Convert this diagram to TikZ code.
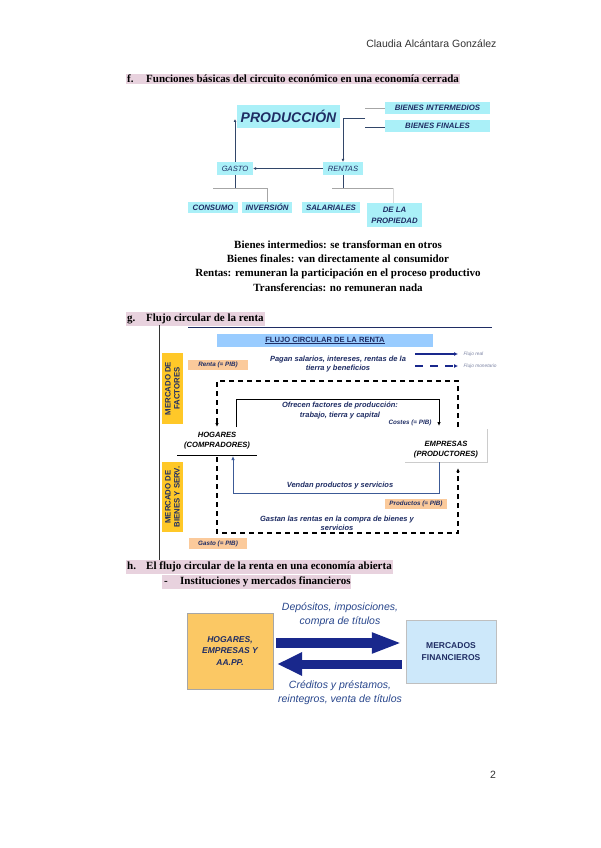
\documentclass[tikz,border=0pt]{standalone}
\usepackage{fontspec}
\setmainfont{Liberation Serif}
\setsansfont{Liberation Sans}
\usetikzlibrary{arrows.meta,calc}
\definecolor{dblue}{RGB}{31,45,100}
\definecolor{hblue}{RGB}{40,70,140}
\definecolor{pinkhl}{RGB}{232,210,222}
\definecolor{cyanbox}{RGB}{170,240,248}
\definecolor{orangebox}{RGB}{251,202,155}
\definecolor{goldbox}{RGB}{255,200,40}
\definecolor{titleblue}{RGB}{153,204,255}
\definecolor{hogbox}{RGB}{251,200,100}
\definecolor{mfbox}{RGB}{205,232,250}
\definecolor{navy}{RGB}{25,40,140}
\definecolor{treeline}{RGB}{50,70,105}
\definecolor{flowblue}{RGB}{60,90,150}
\begin{document}
\begin{tikzpicture}[x=1pt,y=-1pt,
  hl/.style={fill=pinkhl, inner xsep=1pt, inner ysep=1.5pt, anchor=west, font=\bfseries\fontsize{11}{13}\selectfont},
  cbox/.style={fill=cyanbox, inner sep=0pt, text=dblue, align=center, font=\sffamily\bfseries\itshape\fontsize{7.8}{9}\selectfont},
  tline/.style={treeline, line width=0.9pt},
  gline/.style={gray!70, line width=0.9pt},
  ftext/.style={text=dblue, align=center, font=\sffamily\bfseries\itshape\fontsize{7.5}{9.5}\selectfont},
  tiny/.style={text=dblue, font=\sffamily\bfseries\itshape\fontsize{6.3}{7}\selectfont},
  obox/.style={fill=orangebox, inner sep=0pt, tiny},
  gbox/.style={fill=goldbox, inner sep=0pt, rotate=90, text=dblue, align=center, font=\sffamily\bfseries\fontsize{7.8}{9}\selectfont},
  money/.style={black, line width=1.2pt, dash pattern=on 5pt off 4pt, -{Latex[length=4pt,width=3.5pt]}},
  realf/.style={line width=1pt, -{Latex[length=4pt,width=3.5pt]}},
  who/.style={align=center, font=\sffamily\bfseries\itshape\fontsize{7.6}{10}\selectfont}
]
\useasboundingbox[fill=white] (0,0) rectangle (600,848);

% header and footer
\node[anchor=east, text=black!80, font=\sffamily\fontsize{10.5}{12}\selectfont] (author) at (500,44) {Claudia Alcántara González};
\node[text=black!80, font=\sffamily\fontsize{10.5}{12}\selectfont] (pagenum) at (493,775) {2};

% ---------- section f ----------
\node[hl] (hf) at (126,79) {\makebox[19pt][l]{f.}Funciones básicas del circuito económico en una economía cerrada};

\node[cbox, minimum width=103pt, minimum height=23pt, font=\sffamily\bfseries\itshape\fontsize{14}{15}\selectfont] (prod) at (288.5,116.5) {PRODUCCIÓN};
\node[cbox, minimum width=105pt, minimum height=12pt] (bi) at (437.5,108) {BIENES INTERMEDIOS};
\node[cbox, minimum width=105pt, minimum height=12pt] (bf) at (437.5,126) {BIENES FINALES};
\node[cbox, minimum width=36pt, minimum height=13pt, font=\sffamily\itshape\fontsize{7.6}{9}\selectfont] (gasto) at (235,168.5) {GASTO};
\node[cbox, minimum width=40pt, minimum height=13pt, font=\sffamily\itshape\fontsize{7.6}{9}\selectfont] (rentas) at (343,168.5) {RENTAS};
\node[cbox, minimum width=50pt, minimum height=11pt] (cons) at (213,207.5) {CONSUMO};
\node[cbox, minimum width=50pt, minimum height=11pt] (inv) at (267,207.5) {INVERSIÓN};
\node[cbox, minimum width=58pt, minimum height=11pt] (sal) at (331,207.5) {SALARIALES};
\node[cbox, minimum width=55pt, minimum height=24pt, font=\sffamily\bfseries\itshape\fontsize{7.8}{11}\selectfont] (prop) at (394.5,215) {DE LA\\PROPIEDAD};

\coordinate (pj) at (365,118);
\draw[gline] (365,108) -- (bi.west |- 0,108);
\draw[tline] (365,127) -- (bf.west |- 0,127);
\draw[tline, -{Latex[length=3pt,width=3pt]}] (pj) -- (343,118) -- (rentas.north);
\draw[tline, -{Latex[length=3pt,width=3pt]}] (rentas.west) -- (gasto.east);
\draw[tline, -{Latex[length=3pt,width=3pt]}] (gasto.north) -- (235,119);
\draw[tline] (gasto.south) -- (235,188);
\draw[gline] (213,188) -- (267,188) -- (inv.north -| 267,0);
\draw[tline] (rentas.south) -- (343,188);
\draw[gline] (332,188) -- (393,188);
\draw[gray!30, line width=0.9pt] (393,188) -- (393,203);

\node[align=center, font=\bfseries\fontsize{11}{14.2}\selectfont] (defs) at (338,266) {Bienes intermedios: se transforman en otros\\Bienes finales: van directamente al consumidor\\Rentas: remuneran la participación en el proceso productivo\\Transferencias: no remuneran nada};

% ---------- section g ----------
\node[hl] (hg) at (126,319) {\makebox[19pt][l]{g.}Flujo circular de la renta};

\draw[dblue, line width=0.8pt] (188,327) -- (492,327);
\draw[black!80, line width=0.8pt] (159,325) -- (159,560);

\node[fill=titleblue, minimum width=216pt, minimum height=13pt, inner sep=0pt, text=dblue, font=\sffamily\bfseries\fontsize{7.6}{9}\selectfont] (title) at (325,340.5) {\underline{FLUJO CIRCULAR DE LA RENTA}};

\coordinate (lr1) at (415,354); \coordinate (lr2) at (458,354);
\coordinate (lm1) at (415,366); \coordinate (lm2) at (458,366);
\draw[navy, line width=1.2pt, -{Latex[length=4pt,width=4pt]}] (lr1) -- (lr2);
\draw[navy, line width=1.2pt, dash pattern=on 8pt off 7pt, -{Latex[length=4pt,width=4pt]}] (lm1) -- (lm2);
\node[anchor=west, text=dblue!60, font=\sffamily\itshape\fontsize{4.8}{5}\selectfont] (lreal) at (460,354) {Flujo real};
\node[anchor=west, text=dblue!60, font=\sffamily\itshape\fontsize{4.8}{5}\selectfont] (lmon) at (460,366) {Flujo monetario};

\node[obox, minimum width=60pt, minimum height=10pt] (renta) at (218,365) {Renta (= PIB)};
\node[ftext] (pagan) at (338,364) {Pagan salarios, intereses, rentas de la\\tierra y beneficios};

\node[gbox, minimum width=71pt, minimum height=21pt] (mfac) at (172.5,388.5) {MERCADO DE\\FACTORES};
\node[gbox, minimum width=70pt, minimum height=21pt] (mbs) at (172.5,497) {MERCADO DE\\BIENES Y SERV.};

\node[who] (hog) at (217,441) {HOGARES\\(COMPRADORES)};
\draw[black, line width=0.8pt] (177,455) -- (257,455);
\node[who] (emp) at (446,450) {EMPRESAS\\(PRODUCTORES)};
\draw[gray!40, line width=0.8pt] (487,429) -- (487,462) -- (405,462);

% money flows (dashed)
\coordinate (m1) at (458,427); \coordinate (m2) at (458,381);
\coordinate (m3) at (217,381); \coordinate (m4) at (217,427);
\draw[money] (m1) -- (m2) -- (m3) -- (m4);
\coordinate (n1) at (217,457); \coordinate (n2) at (217,533);
\coordinate (n3) at (458,533); \coordinate (n4) at (458,468);
\draw[money] (n1) -- (n2) -- (n3) -- (n4);

% real flows
\coordinate (r1) at (236,427); \coordinate (r2) at (236,399);
\coordinate (r3) at (439,399); \coordinate (r4) at (439,426);
\draw[realf, black] (r1) -- (r2) -- (r3) -- (r4);
\coordinate (s1) at (439,462); \coordinate (s2) at (439,493);
\coordinate (s3) at (233,493); \coordinate (s4) at (233,456);
\draw[realf, flowblue] (s1) -- (s2) -- (s3) -- (s4);

\node[ftext] (ofrecen) at (340,410.5) {Ofrecen factores de producción:\\trabajo, tierra y capital};
\node[tiny] (costes) at (410,423) {Costes (= PIB)};
\node[ftext] (vendan) at (340,486) {Vendan productos y servicios};
\node[obox, minimum width=62pt, minimum height=10pt] (productos) at (416,504) {Productos (= PIB)};
\node[ftext] (gastan) at (337,523.5) {Gastan las rentas en la compra de bienes y\\servicios};
\node[obox, minimum width=58pt, minimum height=11pt] (gastob) at (218,543.5) {Gasto (= PIB)};

% ---------- section h ----------
\node[hl] (hh) at (126,567) {\makebox[19pt][l]{h.}El flujo circular de la renta en una economía abierta};
\node[hl, inner xsep=0pt] (hh2) at (162,582) {\makebox[18pt][l]{\,-}Instituciones y mercados financieros};

\node[fill=hogbox, draw=gray!70, minimum width=86pt, minimum height=76pt, align=center, text=dblue, font=\sffamily\bfseries\itshape\fontsize{8.5}{11.5}\selectfont] (hog2) at (230,651) {HOGARES,\\EMPRESAS Y\\AA.PP.};
\node[fill=mfbox, draw=gray!50, minimum width=90pt, minimum height=63pt, align=center, text=dblue, font=\sffamily\bfseries\fontsize{8.5}{12}\selectfont] (mf) at (451,651.5) {MERCADOS\\FINANCIEROS};

\draw[navy, line width=10pt, -{Triangle[length=30pt,width=19pt]}] ($(hog2.east)+(3,-8)$) -- ($(mf.west)+(-4,-8.5)$);
\draw[navy, line width=9pt, -{Triangle[length=25pt,width=22pt]}] ($(mf.west)+(-4,12.5)$) -- ($(hog2.east)+(4,13)$);

\node[align=center, text=hblue, font=\sffamily\itshape\fontsize{10.5}{14}\selectfont] (dep) at (340,615) {Depósitos, imposiciones,\\compra de títulos};
\node[align=center, text=hblue, font=\sffamily\itshape\fontsize{10.5}{13.5}\selectfont] (cred) at (340,692.5) {Créditos y préstamos,\\reintegros, venta de títulos};
\end{tikzpicture}
\end{document}
